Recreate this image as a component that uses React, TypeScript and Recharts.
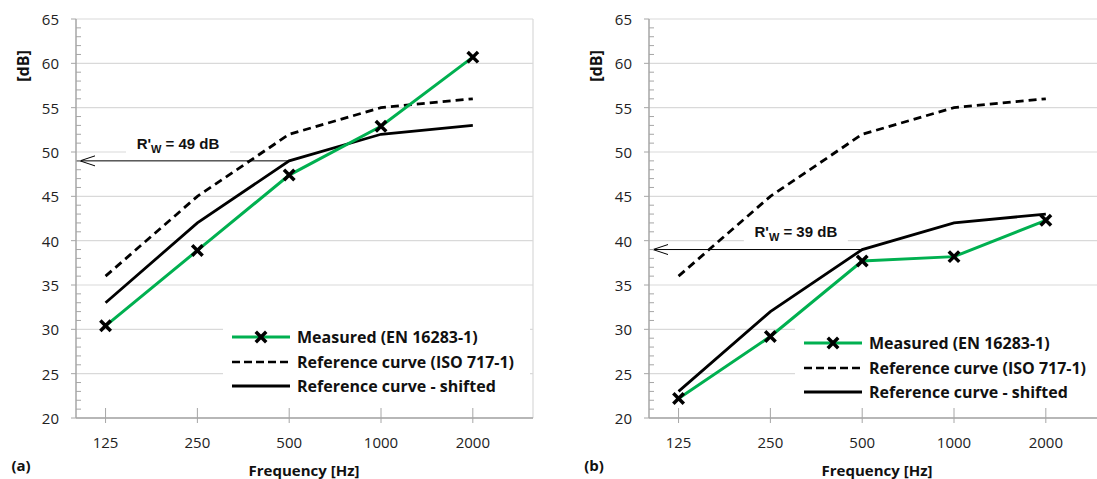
import {
  LineChart,
  Line,
  XAxis,
  YAxis,
  CartesianGrid,
  ReferenceLine,
  ReferenceDot,
  Legend,
} from "recharts";

// octave band centre frequencies [Hz]
const FREQS = [125, 250, 500, 1000, 2000];
const X_TICKS = [125, 250, 500, 1000, 2000];
const Y_MAJOR = [20, 25, 30, 35, 40, 45, 50, 55, 60, 65];

// ISO 717-1 reference curve (octave bands)
const REF_CURVE = [36, 45, 52, 55, 56];

// panel (a)
const MEASURED_A = [30.4, 38.9, 47.4, 52.9, 60.7];
const SHIFTED_A = [33, 42, 49, 52, 53];
const RW_A = 49;

// panel (b)
const MEASURED_B = [22.2, 29.2, 37.7, 38.2, 42.3];
const SHIFTED_B = [23, 32, 39, 42, 43];
const RW_B = 39;

const LEGEND_NAMES = [
  "Measured (EN 16283-1)",
  "Reference curve (ISO 717-1)",
  "Reference curve - shifted",
];

const FONT = "'Open Sans', Lato, sans-serif";
const GREEN = "#00b050";
const AXIS = "#a6a6a6";
const GRID = "#d9d9d9";

const W = 545;
const H = 479;
const MARGIN = { top: 19, right: 12, bottom: 21, left: 16 };

function Cross({ cx, cy, size = 4 }: { cx: number; cy: number; size?: number }) {
  return (
    <path
      d={`M${cx - size} ${cy - size}L${cx + size} ${cy + size}M${cx + size} ${cy - size}L${cx - size} ${cy + size}`}
      stroke="#000"
      strokeWidth={3.5}
      strokeLinecap="square"
      fill="none"
    />
  );
}

function YTick(props: any) {
  const { x, y, payload } = props;
  const v = payload.value;
  if (v % 5 === 0) {
    return (
      <g>
        <line x1={x - 5} x2={x} y1={y} y2={y} stroke={AXIS} />
        <text
          x={x - 17}
          y={y}
          textAnchor="end"
          dominantBaseline="central"
          fontFamily={FONT}
          fontSize={15}
          fill="#222"
        >
          {v}
        </text>
      </g>
    );
  }
  return <line x1={x} x2={x + 5} y1={y} y2={y} stroke={AXIS} />;
}

function XTick(props: any) {
  const { x, y, payload } = props;
  return (
    <g>
      <line x1={x} x2={x} y1={y - 10} y2={y + 5} stroke={AXIS} />
      <text
        x={x}
        y={y + 24}
        textAnchor="middle"
        dominantBaseline="central"
        fontFamily={FONT}
        fontSize={15}
        fill="#222"
      >
        {payload.value}
      </text>
    </g>
  );
}

function LegendBox({ width }: { width: number }) {
  const rows = [0, 25, 49];
  return (
    <svg width={width} height={78} style={{ display: "block", background: "#fff" }}>
      {LEGEND_NAMES.map((name, i) => {
        const y = 15 + rows[i];
        return (
          <g key={name}>
            {i === 0 && <line x1={9} x2={67} y1={y} y2={y} stroke={GREEN} strokeWidth={3} />}
            {i === 0 && <Cross cx={38} cy={y} />}
            {i === 1 && (
              <line x1={9} x2={67} y1={y} y2={y} stroke="#000" strokeWidth={2.5} strokeDasharray="8 4" />
            )}
            {i === 2 && <line x1={9} x2={67} y1={y} y2={y} stroke="#000" strokeWidth={3} />}
            <text
              x={74}
              y={y}
              dominantBaseline="central"
              fontFamily={FONT}
              fontWeight="bold"
              fontSize={16}
              fill="#111"
            >
              {name}
            </text>
          </g>
        );
      })}
    </svg>
  );
}

function ArrowHead(props: any) {
  const { cx, cy } = props;
  const tip = cx + 4;
  return (
    <path
      d={`M${tip + 15} ${cy - 5}L${tip} ${cy}L${tip + 15} ${cy + 5}`}
      stroke="#000"
      strokeWidth={1}
      fill="none"
    />
  );
}

function RwLabel(props: any) {
  const { cx, cy, rw } = props;
  return (
    <g>
      <rect x={cx - 52} y={cy - 16} width={104} height={24} fill="#fff" />
      <text
        x={cx}
        y={cy}
        textAnchor="middle"
        fontFamily="'Liberation Sans', Arial, sans-serif"
        fontWeight="bold"
        fontSize={15}
        fill="#111"
      >
        R'
        <tspan fontSize={11} dy={4}>
          W
        </tspan>
        <tspan dy={-4}>{` = ${rw} dB`}</tspan>
      </text>
    </g>
  );
}

interface PanelProps {
  measured: number[];
  shifted: number[];
  rw: number;
  labelF: number;
  labelY: number;
  legendLeft: number;
  legendTop: number;
  legendWidth: number;
}

function Panel({ measured, shifted, rw, labelF, labelY, legendLeft, legendTop, legendWidth }: PanelProps) {
  const data = FREQS.map((f, i) => ({
    f,
    measured: measured[i],
    ref: REF_CURVE[i],
    shifted: shifted[i],
  }));
  const minor: number[] = [];
  for (let v = 20; v <= 65; v++) minor.push(v);

  return (
    <LineChart width={W} height={H} data={data} margin={MARGIN}>
      <CartesianGrid
        stroke={GRID}
        strokeWidth={1.2}
        horizontalValues={Y_MAJOR}
        verticalValues={[3150]}
      />
      <XAxis
        dataKey="f"
        type="number"
        scale="log"
        domain={[100, 3150]}
        allowDataOverflow
        ticks={X_TICKS}
        interval={0}
        tick={<XTick />}
        tickLine={false}
        tickSize={0}
        tickMargin={0}
        height={40}
        axisLine={{ stroke: AXIS, strokeWidth: 1.5 }}
      />
      <YAxis
        type="number"
        domain={[20, 65]}
        allowDataOverflow
        ticks={minor}
        interval={0}
        tick={<YTick />}
        tickLine={false}
        tickSize={0}
        tickMargin={0}
        width={60}
        axisLine={{ stroke: AXIS, strokeWidth: 1.5 }}
      />
      <ReferenceLine
        segment={[
          { x: 100, y: rw },
          { x: 500, y: rw },
        ]}
        stroke="#000"
        strokeWidth={1}
        ifOverflow="visible"
      />
      <ReferenceDot x={100} y={rw} r={1} shape={<ArrowHead />} ifOverflow="visible" />
      <ReferenceDot x={labelF} y={labelY} r={1} shape={<RwLabel rw={rw} />} ifOverflow="visible" />
      <Line
        dataKey="ref"
        stroke="#000"
        strokeWidth={2.8}
        strokeDasharray="8 5"
        dot={false}
        isAnimationActive={false}
      />
      <Line dataKey="shifted" stroke="#000" strokeWidth={2.8} dot={false} isAnimationActive={false} />
      <Line
        dataKey="measured"
        stroke={GREEN}
        strokeWidth={3}
        dot={(p: any) => <Cross key={p.index} cx={p.cx} cy={p.cy} />}
        isAnimationActive={false}
      />
      <Legend
        layout="vertical"
        align="center"
        verticalAlign="middle"
        wrapperStyle={{ left: legendLeft, top: legendTop, width: legendWidth }}
        content={() => <LegendBox width={legendWidth} />}
      />
    </LineChart>
  );
}

const textStyle: React.CSSProperties = {
  position: "absolute",
  fontFamily: FONT,
  fontWeight: "bold",
  fontSize: 15,
  color: "#111",
  whiteSpace: "nowrap",
  transform: "translate(-50%, -50%)",
};

export default function App() {
  return (
    <div
      style={{
        position: "absolute",
        left: 0,
        top: 0,
        width: 1097,
        height: 479,
        overflow: "hidden",
        background: "#fff",
      }}
    >
      <div style={{ position: "absolute", left: 0, top: 0 }}>
        <Panel
          measured={MEASURED_A}
          shifted={SHIFTED_A}
          rw={RW_A}
          labelF={216}
          labelY={50.3}
          legendLeft={223}
          legendTop={322}
          legendWidth={307}
        />
      </div>
      <div style={{ position: "absolute", left: 573, top: 0 }}>
        <Panel
          measured={MEASURED_B}
          shifted={SHIFTED_B}
          rw={RW_B}
          labelF={303}
          labelY={40.4}
          legendLeft={222}
          legendTop={328}
          legendWidth={310}
        />
      </div>
      <div style={{ ...textStyle, fontSize: 16, left: 23, top: 66, transform: "translate(-50%, -50%) rotate(-90deg)" }}>
        [dB]
      </div>
      <div style={{ ...textStyle, fontSize: 16, left: 596, top: 66, transform: "translate(-50%, -50%) rotate(-90deg)" }}>
        [dB]
      </div>
      <div style={{ ...textStyle, left: 304, top: 470 }}>Frequency [Hz]</div>
      <div style={{ ...textStyle, left: 877, top: 470 }}>Frequency [Hz]</div>
      <div style={{ ...textStyle, left: 21, top: 465 }}>(a)</div>
      <div style={{ ...textStyle, left: 594, top: 465 }}>(b)</div>
    </div>
  );
}
